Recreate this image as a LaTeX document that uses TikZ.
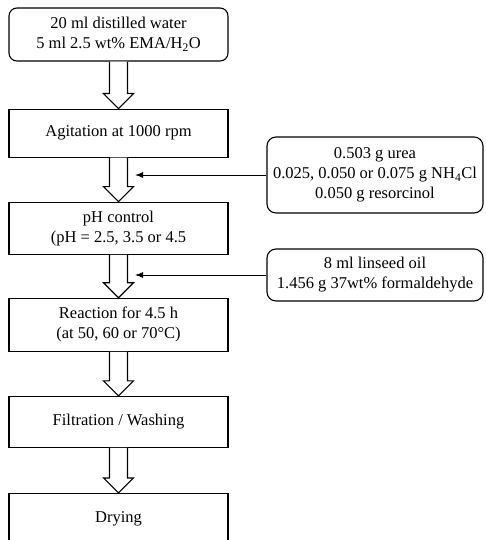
\documentclass[tikz,border=0pt]{standalone}
\usepackage{fontspec}
\setmainfont{Liberation Serif}
\usetikzlibrary{positioning, calc, arrows.meta}

\tikzset{
  stepbox/.style={draw, line width=1.1pt, minimum width=219pt, align=center,
    font=\fontsize{16.5}{20}\selectfont, inner sep=0pt},
  addbox/.style={stepbox, rounded corners=9pt, minimum width=216pt},
  feed/.style={line width=1pt, -{Latex[length=8pt,width=6pt]}},
  hollow/.style={draw, line width=1.1pt, fill=white, line join=miter}
}
% hollow block arrow from one box to the next
\newcommand{\blockarrow}[2]{%
  \draw[hollow] ($(#1.south)+(-9pt,0)$) -- ($(#2.north)+(-9pt,15pt)$)
    -- ($(#2.north)+(-15pt,15pt)$) -- (#2.north) -- ($(#2.north)+(15pt,15pt)$)
    -- ($(#2.north)+(9pt,15pt)$) -- ($(#1.south)+(9pt,0)$);}

\begin{document}
\begin{tikzpicture}[x=1pt, y=1pt]
\useasboundingbox (0,0) rectangle (486,-540);

% main column
\node[stepbox, rounded corners=8pt, minimum height=53pt] (water) at (118.5,-34.5)
  {20 ml distilled water\\5 ml 2.5 wt\% EMA/H\textsubscript{2}O};
\node[stepbox, minimum height=48pt, below=47pt of water] (agit) {Agitation at 1000 rpm};
\node[stepbox, minimum height=52pt, below=44pt of agit] (ph) {pH control\\(pH = 2.5, 3.5 or 4.5};
\node[stepbox, minimum height=53pt, below=43pt of ph] (react) {Reaction for 4.5 h\\(at 50, 60 or 70°C)};
\node[stepbox, minimum height=51pt, below=44pt of react] (filt) {Filtration / Washing};
\node[stepbox, minimum height=50pt, below=45pt of filt] (dry) {Drying};

\blockarrow{water}{agit}
\blockarrow{agit}{ph}
\blockarrow{ph}{react}
\blockarrow{react}{filt}
\blockarrow{filt}{dry}

% additions
\node[addbox, minimum height=76pt] (urea) at (375,-175)
  {0.503 g urea\\0.025, 0.050 or 0.075 g NH\textsubscript{4}Cl\\0.050 g resorcinol};
\node[addbox, minimum height=52pt] (oil) at (375,-275)
  {8 ml linseed oil\\1.456 g 37wt\% formaldehyde};

\coordinate (in1) at (135,-175);
\coordinate (in2) at (135,-275);
\draw[feed] (urea.west) -- (in1);
\draw[feed] (oil.west) -- (in2);

\end{tikzpicture}
\end{document}
